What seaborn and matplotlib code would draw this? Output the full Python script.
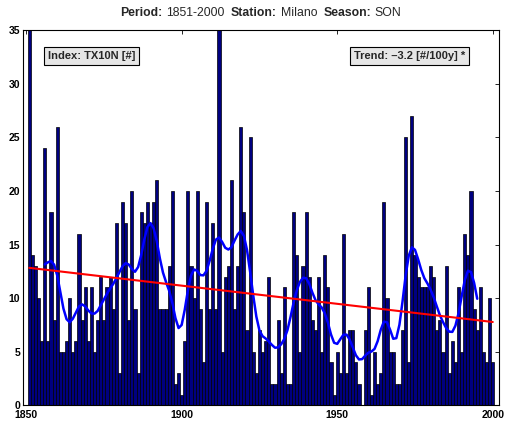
import numpy as np
import pandas as pd
import seaborn as sns
import matplotlib
matplotlib.use("Agg")
import matplotlib.pyplot as plt

# TX10N counts, SON, Milano, one value per year 1851-2000
years = list(range(1851, 2001))
tx10n = [
    35, 14, 13, 10, 6, 24, 6, 18, 8, 26,      # 1851-1860
    5, 5, 6, 10, 5, 6, 16, 8, 11, 6,          # 1861-1870
    11, 5, 8, 12, 8, 11, 12, 9, 17, 3,        # 1871-1880
    19, 17, 8, 20, 9, 3, 18, 17, 19, 17,      # 1881-1890
    19, 21, 9, 9, 9, 13, 20, 2, 3, 1,         # 1891-1900
    6, 20, 13, 10, 20, 9, 4, 19, 9, 17,       # 1901-1910
    9, 35, 5, 12, 13, 21, 9, 13, 26, 18,      # 1911-1920
    7, 25, 5, 3, 7, 5, 6, 12, 2, 2,           # 1921-1930
    8, 3, 11, 2, 2, 18, 14, 5, 13, 18,        # 1931-1940
    12, 8, 7, 12, 5, 14, 11, 4, 1, 5,         # 1941-1950
    3, 16, 3, 7, 7, 4, 2, 0, 7, 11,           # 1951-1960
    1, 5, 2, 3, 19, 10, 5, 5, 2, 2,           # 1961-1970
    7, 25, 4, 27, 14, 12, 11, 11, 11, 13,     # 1971-1980
    12, 7, 8, 5, 13, 3, 6, 4, 11, 5,          # 1981-1990
    16, 14, 20, 9, 7, 11, 5, 4, 10, 4,        # 1991-2000
]

xticks = [1850, 1900, 1950, 2000]
yticks = [0, 5, 10, 15, 20, 25, 30, 35]
index_label = "Index: TX10N [#]"
trend_label = "Trend: \u20133.2 [#/100y] *"
# title pieces: (text, weight, number of spaces after)
title_parts = [("Period:", "bold", 1), ("1851-2000", "normal", 2),
               ("Station:", "bold", 1), ("Milano", "normal", 2),
               ("Season:", "bold", 1), ("SON", "normal", 0)]

df = pd.DataFrame({"year": years, "value": tx10n})

# ~10 year gaussian low pass, only where the full window fits
half = 5
w = np.exp(-0.5 * (np.arange(-half, half + 1) / 2.0) ** 2)
w = w / w.sum()
smooth = pd.DataFrame({
    "year": df["year"].values[half:-half],
    "value": np.convolve(df["value"].values, w, mode="valid"),
})

# linear trend
coef = np.polyfit(df["year"], df["value"], 1)
trend = pd.DataFrame({"year": [years[0], years[-1]]})
trend["value"] = np.polyval(coef, trend["year"])

sns.set_style("white")
plt.rcParams["font.family"] = ["Liberation Sans", "DejaVu Sans"]

fig = plt.figure(figsize=(5.06, 4.25), dpi=100)
ax = fig.add_axes([23 / 506, 1 - 405.3 / 425, 476 / 506, 375.1 / 425])

sns.barplot(data=df, x="year", y="value", native_scale=True, width=1.0,
            color=(0, 0, 0.5), saturation=1, edgecolor="black",
            linewidth=0.5, errorbar=None, ax=ax)
sns.lineplot(data=smooth, x="year", y="value", color=(0, 0, 1),
             linewidth=1.8, ax=ax)
sns.lineplot(data=trend, x="year", y="value", color=(1, 0, 0),
             linewidth=1.5, ax=ax)

ax.set_xlim(1849, 2002)
ax.set_ylim(0, 35)
ax.set_xticks(xticks)
ax.set_yticks(yticks)
ax.set_xticklabels([str(t) for t in xticks])
ax.set_yticklabels([str(t) for t in yticks])
ax.set_xlabel("")
ax.set_ylabel("")
ax.tick_params(direction="in", top=True, right=True, length=3, width=0.6,
               labelsize=7.5, colors="black")
ax.tick_params(axis="x", pad=3.5)
ax.tick_params(axis="y", pad=2)
for lbl in ax.get_xticklabels() + ax.get_yticklabels():
    lbl.set_fontweight("bold")
for s in ax.spines.values():
    s.set_visible(True)
    s.set_color("black")
    s.set_linewidth(0.8)

box = dict(boxstyle="square,pad=0.35", fc="#e6e6e6", ec="black", lw=0.8)
ax.text(0.053, 0.931, index_label, transform=ax.transAxes, ha="left",
        va="center", fontsize=8, fontweight="bold", bbox=box, zorder=5)
ax.text(0.929, 0.931, trend_label, transform=ax.transAxes, ha="right",
        va="center", fontsize=8, fontweight="bold", bbox=box, zorder=5)

# title with mixed bold / regular pieces, laid out by measuring each piece
fs = 8.8
r = fig.canvas.get_renderer()

def text_w(s, weight):
    t = fig.text(0, 0, s, fontsize=fs, fontweight=weight)
    wd = t.get_window_extent(renderer=r).width
    t.remove()
    return wd

space = text_w("x x", "normal") - text_w("xx", "normal")
widths = [text_w(s, wt) for s, wt, _ in title_parts]
total = sum(widths) + space * sum(n for _, _, n in title_parts)
x = 261 - total / 2
for (s, wt, n), wd in zip(title_parts, widths):
    fig.text(x / 506, 1 - 13 / 425, s, ha="left", va="center",
             fontsize=fs, fontweight=wt)
    x += wd + n * space

fig.savefig("out.png", dpi=100)
